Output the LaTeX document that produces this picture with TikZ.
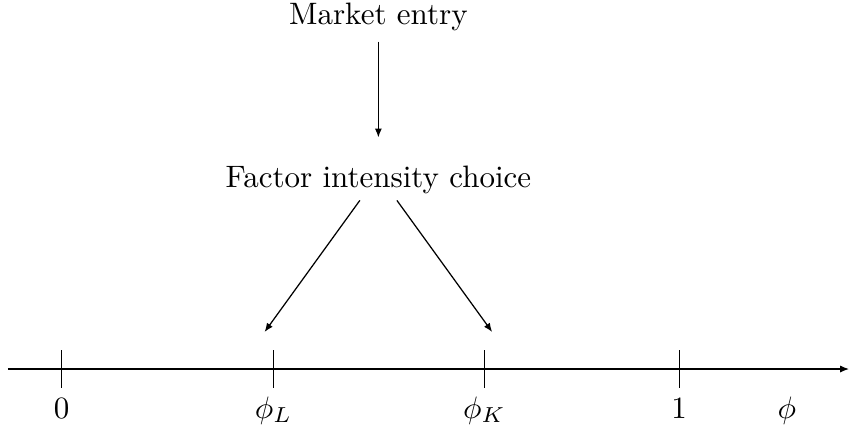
\documentclass[tikz,border=0pt]{standalone}
\usepackage{amsmath,amssymb}
\usepackage{tikz}
\usetikzlibrary{positioning,arrows.meta,calc}

\begin{document}
\begin{tikzpicture}[
  ar/.style={-{Latex[length=1mm,width=0.8mm]}},
  lab/.style={anchor=base}]
\useasboundingbox (0,0) rectangle (9.626,5);
% stages
\node (entry) at (4.29,4.81) {Market entry};
\node (choice) at (4.29,2.96) {Factor intensity choice};
\draw[ar,shorten >=0.2cm] (entry)--(choice);
% axis
\coordinate (ax0) at (0.09,0.816);
\coordinate (ax1) at (9.626,0.816);
\draw[ar] (ax0)--(ax1);
\foreach \n/\x in {t0/0.70,tL/3.10,tK/5.49,t1/7.70}
  \draw (\x,0.606)--(\x,1.026) coordinate (\n);
\node[lab] (l0) at (0.70,0.26) {$0$};
\node[lab] (lL) at (3.10,0.26) {$\phi_L$};
\node[lab] (lK) at (5.49,0.26) {$\phi_K$};
\node[lab] (l1) at (7.70,0.26) {$1$};
\node[lab] (lphi) at (8.92,0.26) {$\phi$};
% arrows to thresholds
\coordinate (aL) at ($(tL)+(-0.10,0.21)$);
\coordinate (aK) at ($(tK)+(0.09,0.21)$);
\draw[ar] ($(choice.south)+(-0.21,0.05)$)--(aL);
\draw[ar] ($(choice.south)+(0.21,0.05)$)--(aK);
\end{tikzpicture}
\end{document}
